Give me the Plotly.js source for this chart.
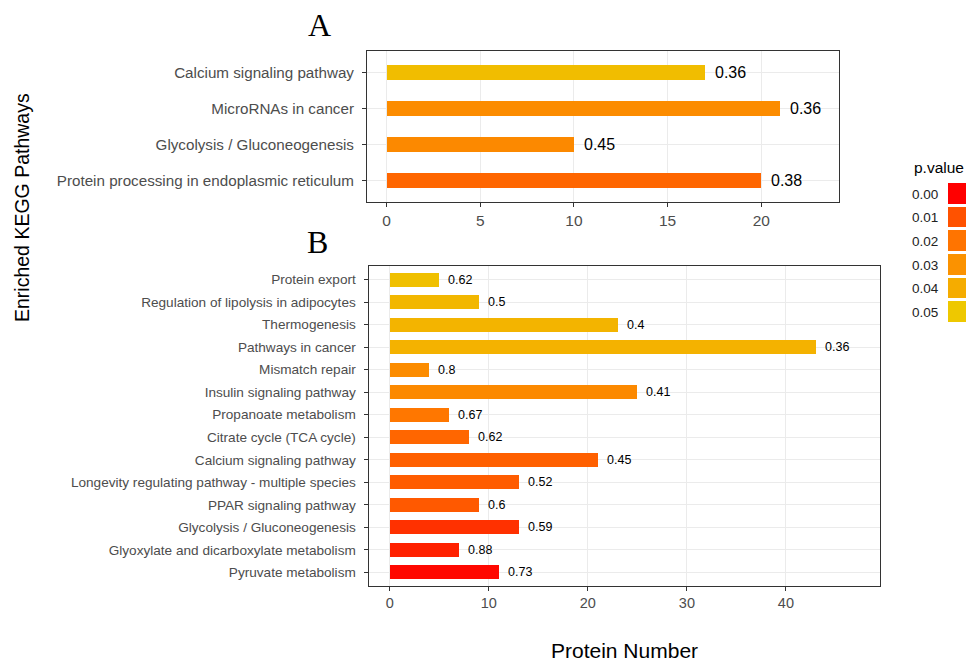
<!DOCTYPE html>
<html>
<head>
<meta charset="utf-8">
<script src="https://cdn.plot.ly/plotly-3.0.1.min.js"></script>
<style>html,body{margin:0;padding:0;background:#fff}#chart{width:966px;height:661px}</style>
</head>
<body>
<div id="chart"></div>
<script>
// Panel A (top to bottom)
const catsA = ["Calcium signaling pathway", "MicroRNAs in cancer", "Glycolysis / Gluconeogenesis", "Protein processing in endoplasmic reticulum"];
const countA = [17, 21, 10, 20];
const ratioA = ["0.36", "0.36", "0.45", "0.38"];
const pvalA = [0.046, 0.028, 0.027, 0.016];

// Panel B (top to bottom)
const catsB = ["Protein export", "Regulation of lipolysis in adipocytes", "Thermogenesis", "Pathways in cancer",
  "Mismatch repair", "Insulin signaling pathway", "Propanoate metabolism", "Citrate cycle (TCA cycle)",
  "Calcium signaling pathway", "Longevity regulating pathway - multiple species", "PPAR signaling pathway",
  "Glycolysis / Gluconeogenesis", "Glyoxylate and dicarboxylate metabolism", "Pyruvate metabolism"];
const countB = [5, 9, 23, 43, 4, 25, 6, 8, 21, 13, 9, 13, 7, 11];
const ratioB = ["0.62", "0.5", "0.4", "0.36", "0.8", "0.41", "0.67", "0.62", "0.45", "0.52", "0.6", "0.59", "0.88", "0.73"];
const pvalB = [0.047, 0.044, 0.043, 0.042, 0.028, 0.027, 0.021, 0.016, 0.014, 0.013, 0.012, 0.006, 0.004, 0.001];

// Legend keys
const legendVals = [0.00, 0.01, 0.02, 0.03, 0.04, 0.05];
const legendLabels = ["0.00", "0.01", "0.02", "0.03", "0.04", "0.05"];

const cscale = [[0, "#FF0000"], [0.2, "#FF5200"], [0.4, "#FF7400"], [0.6, "#FB9200"], [0.8, "#F5AC00"], [1, "#EEC800"]];

const font = "Liberation Sans, Arial, Helvetica, sans-serif";

const traces = [
  {type: "bar", orientation: "h", x: countA, y: catsA, xaxis: "x", yaxis: "y", width: 0.42,
   marker: {color: pvalA, colorscale: cscale, cmin: 0, cmax: 0.05, showscale: false}, hoverinfo: "x+y"},
  {type: "bar", orientation: "h", x: countB, y: catsB, xaxis: "x2", yaxis: "y2", width: 0.62,
   marker: {color: pvalB, colorscale: cscale, cmin: 0, cmax: 0.05, showscale: false}, hoverinfo: "x+y"},
  {type: "heatmap", x: ["k"], y: legendLabels, z: legendVals.map(v => [v]), xaxis: "x3", yaxis: "y3",
   colorscale: cscale, zmin: 0, zmax: 0.05, showscale: false, ygap: 3, hoverinfo: "skip"}
];

const axBase = {
  showline: true, linecolor: "#333333", linewidth: 1, mirror: true,
  showgrid: true, gridcolor: "#EBEBEB", gridwidth: 1, zeroline: false,
  ticks: "outside", ticklen: 4, tickcolor: "#333333", tickwidth: 1,
  fixedrange: true
};

const annotations = [];
countA.forEach((v, i) => annotations.push({x: v, y: catsA[i], xref: "x", yref: "y", text: ratioA[i],
  showarrow: false, xanchor: "left", xshift: 8, font: {family: font, size: 16, color: "#000"}}));
countB.forEach((v, i) => annotations.push({x: v, y: catsB[i], xref: "x2", yref: "y2", text: ratioB[i],
  showarrow: false, xanchor: "left", xshift: 7, font: {family: font, size: 12.5, color: "#000"}}));
annotations.push(
  {text: "A", x: 0.331, y: 1 - 25/661, xref: "paper", yref: "paper", showarrow: false, xanchor: "center", yanchor: "middle",
   font: {family: "Liberation Serif, Times New Roman, serif", size: 32, color: "#000"}},
  {text: "B", x: 0.329, y: 1 - 242/661, xref: "paper", yref: "paper", showarrow: false, xanchor: "center", yanchor: "middle",
   font: {family: "Liberation Serif, Times New Roman, serif", size: 32, color: "#000"}},
  {text: "Enriched KEGG Pathways", x: 22/966, y: 1 - 208/661, xref: "paper", yref: "paper", showarrow: false, textangle: -90,
   xanchor: "center", yanchor: "middle", font: {family: font, size: 19.5, color: "#000"}},
  {text: "Protein Number", x: 624/966, y: 1 - 650/661, xref: "paper", yref: "paper", showarrow: false,
   xanchor: "center", yanchor: "middle", font: {family: font, size: 21, color: "#000"}},
  {text: "p.value", x: 1, y: 1 - 167/661, xref: "paper", yref: "paper", showarrow: false,
   xanchor: "right", yanchor: "middle", font: {family: font, size: 15.5, color: "#000"}}
);

const layout = {
  width: 966, height: 661, margin: {l: 0, r: 0, t: 0, b: 0},
  paper_bgcolor: "#fff", plot_bgcolor: "#fff", showlegend: false, bargap: 0,
  font: {family: font},
  xaxis: Object.assign({}, axBase, {domain: [367/966, 839/966], anchor: "y", range: [-1.05, 24.15],
    tickvals: [0, 5, 10, 15, 20], tickfont: {size: 15.5, color: "#4D4D4D"}}),
  yaxis: Object.assign({}, axBase, {domain: [1 - 202/661, 1 - 51/661], anchor: "x", type: "category",
    categoryorder: "array", categoryarray: catsA, range: [catsA.length - 0.4, -0.6],
    ticklabelstandoff: 5, tickfont: {size: 15.2, color: "#4D4D4D"}}),
  xaxis2: Object.assign({}, axBase, {domain: [368.5/966, 880/966], anchor: "y2", range: [-2.15, 49.5],
    tickvals: [0, 10, 20, 30, 40], tickfont: {size: 14.5, color: "#4D4D4D"}}),
  yaxis2: Object.assign({}, axBase, {domain: [1 - 586/661, 1 - 266/661], anchor: "x2", type: "category",
    categoryorder: "array", categoryarray: catsB, range: [catsB.length - 0.4, -0.6],
    ticklabelstandoff: 5, tickfont: {size: 13.6, color: "#4D4D4D"}}),
  xaxis3: {domain: [948/966, 1], anchor: "y3", visible: false, fixedrange: true},
  yaxis3: {domain: [1 - 324/661, 1 - 182/661], anchor: "x3", type: "category", autorange: "reversed",
    showgrid: false, zeroline: false, showline: false, ticks: "outside", ticklen: 6, tickcolor: "rgba(0,0,0,0)",
    tickfont: {size: 13.5, color: "#222"}, fixedrange: true},
  annotations: annotations
};

Plotly.newPlot("chart", traces, layout, {displayModeBar: false, staticPlot: true});
</script>
</body>
</html>
